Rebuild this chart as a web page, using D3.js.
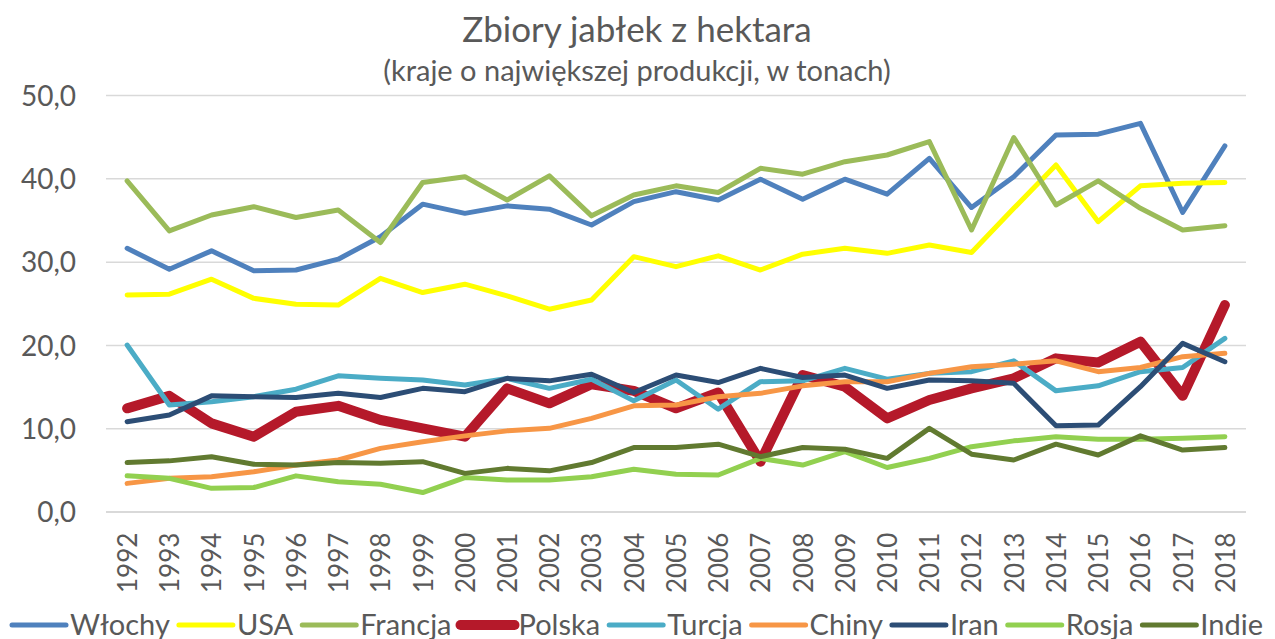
<!DOCTYPE html>
<html><head><meta charset="utf-8">
<script src="https://cdn.jsdelivr.net/npm/d3@7"></script>
<style>
html,body{margin:0;padding:0;background:#fff;}
svg{display:block;font-family:Lato, "Open Sans", sans-serif;}
</style></head>
<body>
<svg id="chart" width="1275" height="639"></svg>
<script>
const years = ["1992","1993","1994","1995","1996","1997","1998","1999","2000","2001","2002","2003","2004","2005","2006","2007","2008","2009","2010","2011","2012","2013","2014","2015","2016","2017","2018"];
const wlochy  = [31.6,29.1,31.3,28.9,29.0,30.3,33.0,36.9,35.8,36.7,36.3,34.4,37.2,38.4,37.4,39.9,37.5,39.9,38.1,42.4,36.5,40.2,45.2,45.3,46.6,35.9,43.9];
const usa     = [26.0,26.1,27.9,25.6,24.9,24.8,28.0,26.3,27.3,25.9,24.3,25.4,30.6,29.4,30.7,29.0,30.9,31.6,31.0,32.0,31.1,36.4,41.6,34.8,39.1,39.4,39.5];
const francja = [39.7,33.7,35.6,36.6,35.3,36.2,32.3,39.5,40.2,37.4,40.3,35.5,38.0,39.1,38.3,41.2,40.5,42.0,42.8,44.4,33.8,44.9,36.8,39.7,36.4,33.8,34.3];
const polska  = [12.4,13.9,10.6,9.0,12.0,12.7,11.0,10.0,9.0,14.8,13.0,15.3,14.5,12.4,14.3,6.0,16.4,15.0,11.2,13.4,14.8,16.0,18.4,17.9,20.4,13.9,24.8];
const turcja  = [20.0,12.8,13.2,13.8,14.7,16.3,16.0,15.8,15.2,16.0,14.8,15.9,13.3,15.8,12.3,15.6,15.7,17.2,15.9,16.6,16.8,18.1,14.5,15.1,16.8,17.3,20.8];
const chiny   = [3.4,4.0,4.2,4.8,5.6,6.2,7.6,8.4,9.1,9.7,10.0,11.2,12.7,12.8,13.8,14.2,15.1,15.6,15.6,16.6,17.4,17.7,18.1,16.8,17.3,18.6,19.0];
const iran    = [10.8,11.6,13.9,13.8,13.7,14.2,13.7,14.8,14.4,16.0,15.7,16.5,14.3,16.4,15.5,17.2,16.1,16.4,14.8,15.8,15.7,15.4,10.3,10.4,15.0,20.2,18.0];
const rosja   = [4.3,4.0,2.8,2.9,4.3,3.6,3.3,2.3,4.1,3.8,3.8,4.2,5.1,4.5,4.4,6.4,5.6,7.2,5.3,6.4,7.8,8.5,9.0,8.7,8.7,8.8,9.0];
const indie   = [5.9,6.1,6.6,5.7,5.6,5.9,5.8,6.0,4.6,5.2,4.9,5.9,7.7,7.7,8.1,6.6,7.7,7.5,6.4,10.0,6.9,6.2,8.1,6.8,9.1,7.4,7.7];
const seriesNames = ["Włochy","USA","Francja","Polska","Turcja","Chiny","Iran","Rosja","Indie"];
const yTicks = [0,10,20,30,40,50];
const titleText = "Zbiory jabłek z hektara";
const subtitleText = "(kraje o największej produkcji, w tonach)";

const seriesValues = [wlochy,usa,francja,polska,turcja,chiny,iran,rosja,indie];
const colors = ["#4f81bd","#ffff00","#9bbb59","#b5192a","#4bacc6","#f79646","#2c4d75","#92d050","#617a30"];
const widths = [5,5,5,10,5,5,5,5,5];

const svg = d3.select("#chart");
const pLeft = 106, pRight = 1246, pTop = 95, pBottom = 511.7;

const x = d3.scalePoint().domain(years).range([pLeft,pRight]).padding(0.5);
const y = d3.scaleLinear().domain([0,50]).range([pBottom,pTop]);

// title
svg.append("text").attr("x",637).attr("y",42).attr("text-anchor","middle")
  .attr("fill","#595959").style("font-size","35px").text(titleText);
svg.append("text").attr("x",637).attr("y",81).attr("text-anchor","middle")
  .attr("fill","#595959").style("font-size","29px").text(subtitleText);

// y axis with gridlines
const yAxis = svg.append("g").attr("transform",`translate(${pLeft},0)`)
  .call(d3.axisLeft(y).tickValues(yTicks).tickSize(-(pRight-pLeft)).tickPadding(30)
    .tickFormat(d=>d.toFixed(1).replace(".",",")));
yAxis.select(".domain").remove();
yAxis.selectAll(".tick line").attr("stroke","#d9d9d9").attr("stroke-width",1.5);
yAxis.selectAll(".tick text").attr("fill","#595959").style("font-size","28px").style("font-family","Lato").attr("dy","0.36em");

// x axis
const xAxis = svg.append("g").attr("transform",`translate(0,${pBottom})`)
  .call(d3.axisBottom(x).tickSize(0).tickPadding(0));
xAxis.select(".domain").attr("stroke","#d9d9d9").attr("stroke-width",1.5)
  .attr("d",`M${pLeft},0H${pRight}`);
xAxis.selectAll(".tick text")
  .attr("fill","#595959").style("font-size","26px").style("font-family","Lato")
  .attr("text-anchor","end").attr("transform","rotate(-90)")
  .attr("x",-21).attr("y",0).attr("dy","0.36em");

// lines
const line = d3.line().x((d,i)=>x(years[i])).y(d=>y(d));
seriesValues.forEach((vals,k)=>{
  svg.append("path").datum(vals).attr("d",line)
    .attr("fill","none").attr("stroke",colors[k]).attr("stroke-width",widths[k])
    .attr("stroke-linejoin","round").attr("stroke-linecap","round");
});

// legend
const lg = svg.append("g");
const legY = 625;
let cx = 12;
seriesNames.forEach((name,k)=>{
  const g = lg.append("g");
  g.append("line").attr("x1",cx).attr("x2",cx+54).attr("y1",legY).attr("y2",legY)
    .attr("stroke",colors[k]).attr("stroke-width",widths[k]).attr("stroke-linecap","round");
  const t = g.append("text").attr("x",cx+58).attr("y",legY).attr("dy","0.36em")
    .attr("fill","#595959").style("font-size","29px").text(name);
  const w = t.node().getComputedTextLength();
  cx += 58 + w + 9;
});
</script>
</body></html>
